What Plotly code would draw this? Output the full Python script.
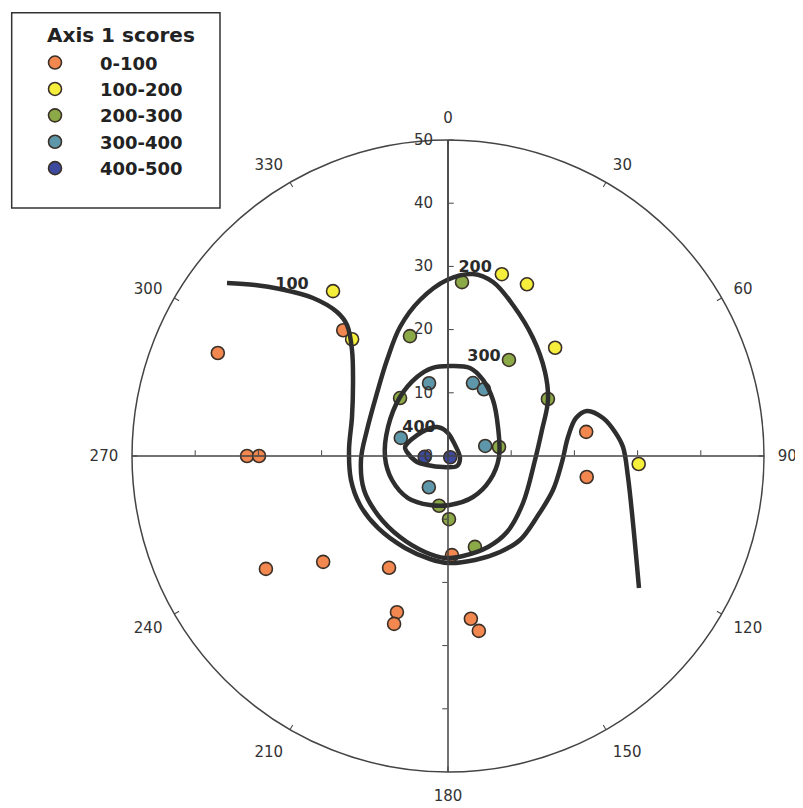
import numpy as np
import plotly.graph_objects as go

# ---------------- data ----------------
categories = ["0-100", "100-200", "200-300", "300-400", "400-500"]
colors = ["#F2874F", "#F5EF3C", "#8CA948", "#5E97AA", "#3E4A9D"]
legend_title = "Axis 1 scores"

r_0_100 = [39.9, 31.8, 29.9, 33.9, 25.9, 20.0, 26.0, 27.9, 26.0, 28.1, 15.7, 22.2, 22.2, 25.9]
theta_0_100 = [294.1, 270, 270, 238.2, 229.7, 207.8, 198.1, 197.8, 172.0, 170.0, 177.7, 80.1, 98.6, 320.2]

r_100_200 = [31.8, 23.9, 30.0, 29.9, 24.1, 30.2]
theta_100_200 = [325.1, 320.6, 16.5, 24.7, 44.7, 92.4]

r_200_300 = [27.6, 19.9, 18.0, 11.9, 18.2, 8.2, 8.0, 10.0, 15.0]
theta_200_300 = [4.6, 342.4, 32.4, 320.4, 60.3, 80.0, 190.2, 179.1, 163.5]

r_300_400 = [11.9, 12.2, 12.0, 8.0, 6.1, 5.8]
theta_300_400 = [345.4, 18.9, 28.3, 291.0, 74.9, 211.5]

r_400_500 = [0.4, 3.7]
theta_400_500 = [120, 268]

# contour lines, as east / north offsets in radial-axis units
c100_east = [-34.97, -30.54, -26.58, -21.36, -17.56, -15.98, -15.19, -15.03, -15.19, -15.66, -15.35,
             -13.92, -11.08, -6.80, -2.85, 0.0, 4.27, 8.23, 11.39, 14.08, 16.61, 18.04, 18.99, 20.25,
             21.99, 24.53, 26.42, 27.69, 28.48, 29.27, 30.22]
c100_north = [27.37, 27.06, 26.42, 25.0, 22.78, 20.73, 16.77, 11.55, 6.17, 0.95, -3.80,
              -7.75, -11.39, -14.56, -16.30, -16.93, -16.46, -15.19, -13.29, -9.65, -5.38, -0.95, 3.01, 6.01,
              7.12, 6.01, 3.80, 1.42, -3.32, -10.60, -20.89]

c200_east = [3.96, 7.12, 10.28, 13.45, 15.35, 15.82, 14.87, 13.77, 11.87, 9.34, 6.33, 2.37, -0.47,
             -3.64, -7.59, -11.08, -13.29, -13.77, -12.82, -11.23, -9.65, -7.59, -4.43, -0.16, 3.96]
c200_north = [28.80, 27.53, 23.89, 18.67, 13.29, 8.86, 4.11, -0.63, -7.44, -12.03, -14.40, -15.82, -16.14,
              -15.19, -12.82, -9.34, -5.38, -0.63, 4.11, 9.97, 15.19, 20.41, 24.68, 27.85, 28.80]

c300_east = [0.32, 3.48, 5.54, 7.12, 7.91, 8.07, 6.65, 3.96, 0.32, -2.85, -6.33, -8.86, -9.97, -9.49,
             -7.59, -4.91, -2.53, 0.32]
c300_north = [14.24, 13.92, 12.03, 8.86, 4.59, -0.16, -3.80, -6.49, -7.75, -7.75, -6.65, -3.80, -0.16, 4.59,
              9.34, 12.50, 13.92, 14.24]

c400_east = [-6.80, -4.11, -1.74, -0.16, 1.11, 1.90, 1.42, -0.79, -3.32, -4.91, -6.49, -6.80]
c400_north = [1.42, 3.80, 4.59, 3.80, 1.74, -0.32, -1.58, -1.74, -1.42, -0.95, 0.63, 1.42]

contour_levels = ["100", "200", "300", "400"]
label_r = [36.6, 30.05, 16.67, 6.38]
label_theta = [317.6, 8.2, 20.0, 314.0]

angular_ticks = list(range(0, 360, 30))
radial_ticks = [0, 10, 20, 30, 40, 50]
cross_ticks = [10, 20, 30, 40]

# ---------------- figure ----------------
fig = go.Figure()

point_sets = [(r_0_100, theta_0_100), (r_100_200, theta_100_200), (r_200_300, theta_200_300),
              (r_300_400, theta_300_400), (r_400_500, theta_400_500)]
for name, col, (rr, tt) in zip(categories, colors, point_sets):
    fig.add_trace(go.Scatterpolar(
        r=rr, theta=tt, mode="markers", name=name,
        marker=dict(size=13, color=col, line=dict(color="#3a3028", width=1.6)),
        subplot="polar"))


def to_polar(e, n):
    e = np.asarray(e, float)
    n = np.asarray(n, float)
    return np.hypot(e, n), np.degrees(np.arctan2(e, n)) % 360


for e, n in [(c100_east, c100_north), (c200_east, c200_north),
             (c300_east, c300_north), (c400_east, c400_north)]:
    rr, tt = to_polar(e, n)
    fig.add_trace(go.Scatterpolar(
        r=rr, theta=tt, mode="lines", showlegend=False, hoverinfo="skip",
        line=dict(color="#2e2e2e", width=4.5, shape="spline", smoothing=1.0),
        subplot="polar"))

fig.add_trace(go.Scatterpolar(
    r=label_r, theta=label_theta, mode="text", text=contour_levels, showlegend=False,
    textfont=dict(family="DejaVu Sans", size=16, color="#2a2a2a", weight="bold"),
    subplot="polar"))

dom = dict(x=[0.15442, 0.94147], y=[0.05446, 0.83663])
axis_col = "#444"
clear = "rgba(0,0,0,0)"

fig.update_layout(
    width=803, height=808,
    margin=dict(l=0, r=0, t=0, b=0),
    paper_bgcolor="white", plot_bgcolor="white",
    font=dict(family="DejaVu Sans", color="#333"),
    polar=dict(
        domain=dom, bgcolor=clear,
        angularaxis=dict(rotation=90, direction="clockwise", tickmode="array",
                         tickvals=angular_ticks, ticktext=[str(v) for v in angular_ticks],
                         showgrid=False, showline=True, linecolor=axis_col, linewidth=1.5,
                         ticks="outside", ticklen=10, tickcolor=clear,
                         tickfont=dict(size=15, color="#333")),
        radialaxis=dict(range=[0, 50], angle=90, side="counterclockwise", tickangle=90,
                        tickmode="array", tickvals=radial_ticks,
                        showgrid=False, showline=True, linecolor=axis_col, linewidth=1.5,
                        ticks="outside", ticklen=9, tickcolor=clear,
                        tickfont=dict(size=15, color="#333"))),
    legend=dict(x=0.0025, y=0.955, xanchor="left", yanchor="top",
                bgcolor=clear, borderwidth=0,
                itemwidth=80,
                font=dict(family="DejaVu Sans", size=18, color="#222", weight="bold")),
    annotations=[dict(text=legend_title, xref="paper", yref="paper", x=0.0461, y=0.9666,
                      xanchor="left", yanchor="middle", showarrow=False,
                      font=dict(family="DejaVu Sans", size=20, color="#222", weight="bold"))],
    shapes=[dict(type="rect", xref="paper", yref="paper",
                 x0=0.0046, x1=0.264, y0=0.7525, y1=0.9942,
                 line=dict(color="#333", width=1.5), fillcolor=clear)],
)

# overlay axes: inward angular ticks, and radial ticks on all four half-lines of the cross
overlays = [("polar2", 0, "counterclockwise", cross_ticks, True),
            ("polar3", 180, "clockwise", cross_ticks, False),
            ("polar4", 270, "clockwise", cross_ticks, False),
            ("polar5", 90, "clockwise", radial_ticks[1:], False)]
for key, ang, side, tv, ang_ticks in overlays:
    fig.add_trace(go.Scatterpolar(r=[radial_ticks[0]], theta=[angular_ticks[0]], mode="markers",
                                  marker=dict(opacity=0), showlegend=False, hoverinfo="skip",
                                  subplot=key))
    if ang_ticks:
        aa = dict(rotation=90, direction="clockwise", tickmode="array", tickvals=angular_ticks,
                  showticklabels=False, showgrid=False, showline=False,
                  ticks="inside", ticklen=5, tickcolor=axis_col, tickwidth=1.3)
    else:
        aa = dict(visible=False)
    fig.update_layout({key: dict(
        domain=dom, bgcolor=clear,
        angularaxis=aa,
        radialaxis=dict(range=[0, 50], angle=ang, side=side, tickmode="array",
                        tickvals=tv, showticklabels=False, showgrid=False,
                        showline=True, linecolor=axis_col, linewidth=1.5,
                        ticks="outside", ticklen=5, tickcolor=axis_col))})

fig.write_html("out.html")
